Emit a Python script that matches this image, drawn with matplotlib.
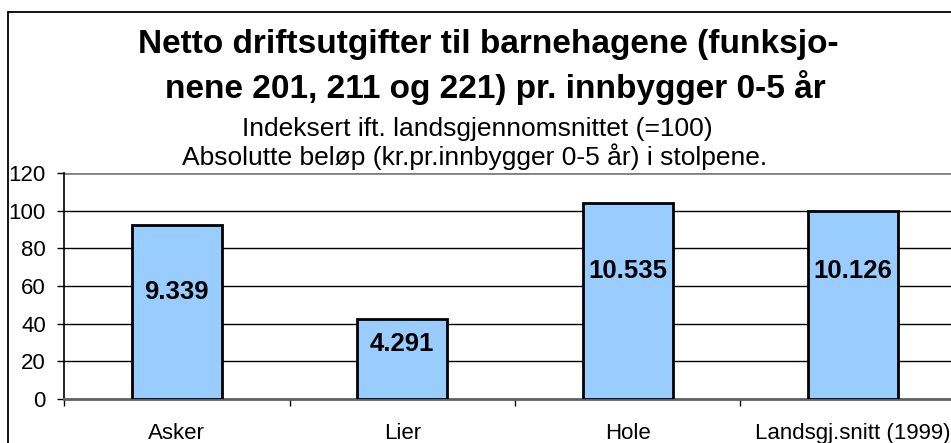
import matplotlib
matplotlib.use("Agg")
import matplotlib.pyplot as plt
from matplotlib.patches import Rectangle

# data
categories = ["Asker", "Lier", "Hole", "Landsgj.snitt (1999)"]
index_values = [92.2, 42.4, 104.0, 100.0]
bar_labels = ["9.339", "4.291", "10.535", "10.126"]
label_heights = [57, 29, 68, 68]
y_ticks = [0, 20, 40, 60, 80, 100, 120]

plt.rcParams["font.family"] = ["Liberation Sans", "DejaVu Sans"]

fig = plt.figure(figsize=(9.51, 4.43), dpi=100)
W, H = 951, 443

# outer chart frame (runs off the right and bottom edge)
fig.patches.append(Rectangle((8 / W, -0.1), 1.0, 1 - 12 / H + 0.1,
                             transform=fig.transFigure, fill=False,
                             edgecolor="black", linewidth=1.3))

fig.text(488 / W, 1 - 45 / H, "Netto driftsutgifter til barnehagene (funksjo-",
         ha="center", va="center", fontsize=24, fontweight="bold")
fig.text(495 / W, 1 - 88 / H, "nene 201, 211 og 221) pr. innbygger 0-5 år",
         ha="center", va="center", fontsize=24, fontweight="bold")
fig.text(477 / W, 1 - 129 / H, "Indeksert ift. landsgjennomsnittet (=100)",
         ha="center", va="center", fontsize=19)
fig.text(475 / W, 1 - 157 / H, "Absolutte beløp (kr.pr.innbygger 0-5 år) i stolpene.",
         ha="center", va="center", fontsize=19)

ax = fig.add_axes([64 / W, 1 - 399 / H, 902 / W, 226 / H])

x = [i + 0.5 for i in range(len(categories))]
bars = ax.bar(x, index_values, width=0.4, color="#99CCFF",
              edgecolor="black", linewidth=2, zorder=3)
for xi, lab, h in zip(x, bar_labels, label_heights):
    ax.text(xi, h, lab, ha="center", va="center", fontsize=18.5,
            fontweight="bold", zorder=4)

ax.set_xlim(0, len(categories))
ax.set_ylim(0, 120)
ax.set_yticks(y_ticks)
for t in y_ticks[1:-1]:
    ax.axhline(t, color="black", linewidth=1, zorder=1)
ax.axhline(120, color="#808080", linewidth=2, zorder=1)

ax.set_xticks(x)
ax.set_xticklabels(categories)
ax.set_xticks(range(len(categories) + 1), minor=True)
ax.tick_params(axis="x", which="major", length=0, pad=17, labelsize=16)
ax.tick_params(axis="x", which="minor", length=5, width=1, direction="out")
ax.tick_params(axis="y", length=5, width=1, pad=8, labelsize=16)

for side in ["top", "right"]:
    ax.spines[side].set_visible(False)
ax.spines["left"].set_linewidth(1.2)
ax.spines["bottom"].set_color("#606060")
ax.spines["bottom"].set_linewidth(2)

fig.savefig("out.png", dpi=100)
